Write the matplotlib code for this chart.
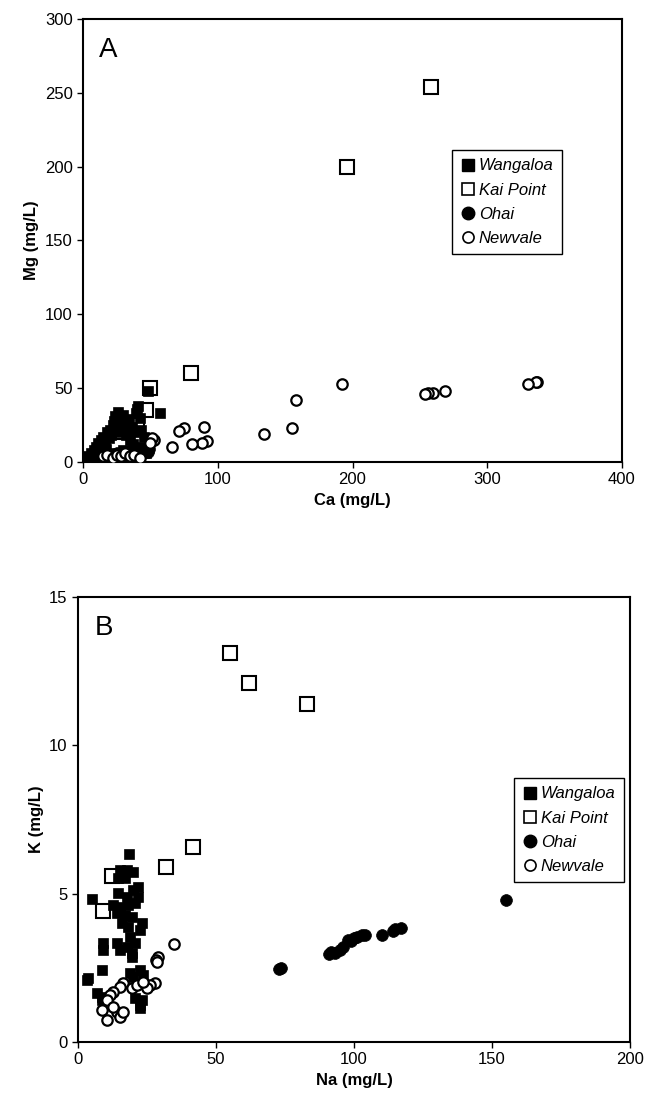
import matplotlib.pyplot as plt
from matplotlib.lines import Line2D

plt.rcParams['font.family'] = ['Liberation Sans', 'DejaVu Sans']

# ---- Panel A: Ca vs Mg (mg/L) ----
wang_ca = [1, 2, 4, 5, 6, 8, 9, 10, 10, 11, 12, 13, 14, 15, 15, 16, 17, 18, 19, 20,
           20, 21, 22, 23, 24, 25, 25, 26, 27, 28, 29, 30, 30, 31, 32, 33, 34, 35, 35,
           36, 37, 38, 39, 40, 40, 41, 42, 43, 44, 45, 46, 47, 48, 57]
wang_mg = [3, 2, 4, 3, 6, 8, 5, 10, 3, 13, 7, 15, 11, 17, 4, 14, 9, 20, 16, 22,
           6, 18, 25, 28, 31, 20, 4, 34, 24, 30, 27, 32, 8, 22, 18, 26, 29, 15, 6,
           24, 12, 20, 33, 36, 5, 38, 30, 22, 10, 17, 8, 6, 48, 33]

kai_ca = [258, 196, 80, 50, 47, 30, 40]
kai_mg = [254, 200, 60, 50, 35, 20, 25]

ohai_ca = [22, 25, 28, 30, 32, 35, 37, 38, 40, 42, 43, 44, 45, 46, 47, 48, 49]
ohai_mg = [5, 6, 5, 7, 6, 7, 8, 6, 8, 7, 9, 8, 9, 7, 8, 7, 9]

newv_ca = [337, 336, 330, 269, 260, 256, 254, 192, 158, 155, 134, 92, 90, 88, 81,
           75, 71, 66, 53, 51, 50, 15, 18, 22, 25, 28, 31, 35, 38, 42]
newv_mg = [54, 54, 53, 48, 47, 47, 46, 53, 42, 23, 19, 14, 24, 13, 12,
           23, 21, 10, 15, 16, 13, 4, 5, 3, 5, 4, 6, 4, 5, 3]

# ---- Panel B: Na vs K (mg/L) ----
wang_na = [18.6, 15.2, 17.6, 20.0, 14.6, 17.0, 21.8, 20.0, 14.6, 17.6, 21.8, 5.0,
           12.8, 15.2, 18.2, 20.6, 14.0, 17.0, 19.4, 15.8, 18.2, 23.1, 22.5, 18.8,
           20.6, 19.4, 17.6, 9.2, 9.2, 14.0, 15.2, 19.4, 8.6, 3.1, 3.7, 18.8, 22.5,
           23.7, 20.0, 6.8, 8.6, 20.6, 22.5, 23.1, 22.5, 8.6]
wang_k = [6.33, 5.80, 5.80, 5.74, 5.52, 5.52, 5.24, 5.12, 5.01, 4.90, 4.90, 4.81,
          4.62, 4.56, 4.62, 4.67, 4.34, 4.28, 4.22, 4.00, 3.89, 4.00, 3.77, 3.55,
          3.33, 2.99, 3.21, 3.33, 3.10, 3.33, 3.10, 2.88, 2.43, 2.09, 2.15, 2.32, 2.43,
          2.26, 2.20, 1.64, 1.53, 1.47, 1.25, 1.42, 1.14, 1.42]

kai_na = [55, 62, 83, 41.5, 31.8, 12.2, 9.2]
kai_k = [13.1, 12.1, 11.4, 6.56, 5.89, 5.6, 4.43]

ohai_na = [73, 73.5, 91, 91.5, 93, 95, 96, 98, 99, 100, 101, 103, 104, 110, 114,
           115, 117, 155]
ohai_k = [2.45, 2.5, 2.95, 3.05, 3.0, 3.1, 3.2, 3.45, 3.4, 3.5, 3.55, 3.6, 3.6, 3.6,
          3.75, 3.8, 3.85, 4.8]

newv_na = [34.8, 29.1, 28.3, 28.7, 27.9, 26.1, 24.9, 16.4, 15.2, 12.8, 11.6, 10.4,
           8.6, 10.4, 14.0, 15.2, 16.4, 12.8, 19.4, 21.3, 23.7]
newv_k = [3.29, 2.88, 2.76, 2.71, 2.00, 1.92, 1.81, 1.98, 1.86, 1.70, 1.58, 1.42,
          1.08, 0.74, 1.02, 0.85, 1.02, 1.19, 1.81, 1.92, 2.03]

site_names = ['Wangaloa', 'Kai Point', 'Ohai', 'Newvale']


def draw_panel(ax, wx, wy, kx, ky, ox, oy, nx, ny):
    ax.plot(kx, ky, 's', ms=10, mfc='white', mec='black', mew=1.5, zorder=2)
    ax.plot(wx, wy, 's', ms=6.8, mfc='black', mec='black', mew=0.5, zorder=3)
    ax.plot(ox, oy, 'o', ms=8.5, mfc='black', mec='black', mew=0.5, zorder=4)
    ax.plot(nx, ny, 'o', ms=7.5, mfc='white', mec='black', mew=1.6, zorder=5)
    for s in ax.spines.values():
        s.set_linewidth(1.5)
    ax.tick_params(direction='out', length=4, width=1, labelsize=12)


def make_legend(ax, anchor):
    handles = [
        Line2D([], [], ls='none', marker='s', ms=8, mfc='black', mec='black'),
        Line2D([], [], ls='none', marker='s', ms=8, mfc='white', mec='black', mew=1.2),
        Line2D([], [], ls='none', marker='o', ms=9, mfc='black', mec='black'),
        Line2D([], [], ls='none', marker='o', ms=8, mfc='white', mec='black', mew=1.2),
    ]
    leg = ax.legend(handles, site_names, loc='upper left', bbox_to_anchor=anchor,
                    borderaxespad=0, fancybox=False, framealpha=1, edgecolor='black',
                    handlelength=0.9, handletextpad=0.2, labelspacing=0.55,
                    borderpad=0.5, prop={'style': 'italic', 'size': 12})
    leg.get_frame().set_linewidth(1.0)


fig = plt.figure(figsize=(6.49, 11.18), dpi=100)

axA = fig.add_axes([83 / 649, 1 - 462 / 1118, 539 / 649, 443 / 1118])
draw_panel(axA, wang_ca, wang_mg, kai_ca, kai_mg, ohai_ca, ohai_mg, newv_ca, newv_mg)
axA.set_xlim(0, 400)
axA.set_ylim(0, 300)
axA.set_xticks([0, 100, 200, 300, 400])
axA.set_yticks([0, 50, 100, 150, 200, 250, 300])
axA.set_xlabel('Ca (mg/L)', fontsize=12, fontweight='bold')
axA.set_ylabel('Mg (mg/L)', fontsize=12, fontweight='bold')
axA.text(0.03, 0.96, 'A', transform=axA.transAxes, fontsize=20, va='top', ha='left')
make_legend(axA, (0.685, 0.704))

axB = fig.add_axes([78 / 649, 1 - 1042 / 1118, 552 / 649, 445 / 1118])
draw_panel(axB, wang_na, wang_k, kai_na, kai_k, ohai_na, ohai_k, newv_na, newv_k)
axB.set_xlim(0, 200)
axB.set_ylim(0, 15)
axB.set_xticks([0, 50, 100, 150, 200])
axB.set_yticks([0, 5, 10, 15])
axB.set_xlabel('Na (mg/L)', fontsize=12, fontweight='bold')
axB.set_ylabel('K (mg/L)', fontsize=12, fontweight='bold')
axB.text(0.03, 0.96, 'B', transform=axB.transAxes, fontsize=20, va='top', ha='left')
make_legend(axB, (0.79, 0.593))

fig.savefig('out.png', dpi=100)
